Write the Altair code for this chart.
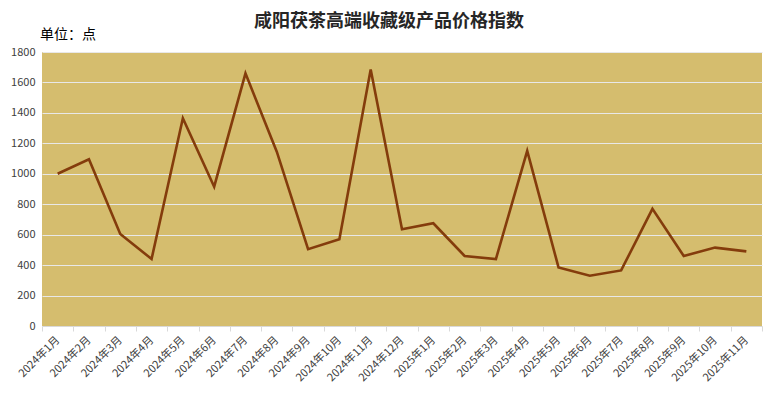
import altair as alt
import pandas as pd

months = ["2024年1月", "2024年2月", "2024年3月", "2024年4月", "2024年5月", "2024年6月",
          "2024年7月", "2024年8月", "2024年9月", "2024年10月", "2024年11月", "2024年12月",
          "2025年1月", "2025年2月", "2025年3月", "2025年4月", "2025年5月", "2025年6月",
          "2025年7月", "2025年8月", "2025年9月", "2025年10月", "2025年11月"]
values = [1000, 1095, 605, 440, 1365, 915, 1660, 1145, 505, 570, 1685, 635,
          675, 460, 440, 1150, 385, 330, 365, 770, 460, 515, 490]
y_ticks = [0, 200, 400, 600, 800, 1000, 1200, 1400, 1600, 1800]
title_text = "咸阳茯茶高端收藏级产品价格指数"
unit_text = "单位：点"

df = pd.DataFrame({"month": months, "value": values})

FONT = "Noto Sans CJK SC"

line = alt.Chart(df).mark_line(color="#843C0C", strokeWidth=2.6).encode(
    x=alt.X("month:N", sort=months, title=None,
            scale=alt.Scale(type="band", paddingInner=0, paddingOuter=0),
            axis=alt.Axis(labelAngle=-45, labelAlign="right", labelBaseline="middle",
                          labelFont=FONT, labelFontSize=11, labelColor="#404040",
                          labelPadding=7, tickBand="extent", ticks=True, tickSize=5,
                          tickColor="#d9d9d9", domainColor="#d9d9d9", grid=False)),
    y=alt.Y("value:Q", title=None,
            scale=alt.Scale(domain=[0, 1800], nice=False),
            axis=alt.Axis(values=y_ticks, format="d", labelFont=FONT, labelFontSize=11,
                          labelColor="#404040", ticks=False, domain=False,
                          labelPadding=7, gridColor="#e8e8e8", gridWidth=1.2)),
)

unit = alt.Chart(pd.DataFrame({"t": [unit_text]})).mark_text(
    align="left", baseline="middle", font=FONT, fontSize=14, color="#000000"
).encode(x=alt.value(-2), y=alt.value(-17), text="t:N")

title = alt.Chart(pd.DataFrame({"t": [title_text]})).mark_text(
    align="center", baseline="middle", font=FONT, fontSize=18, fontWeight="bold",
    color="#262626"
).encode(x=alt.value(347), y=alt.value(-30), text="t:N")

chart = alt.layer(line, unit, title).properties(
    width=720, height=274,
    padding={"left": 34, "top": 44, "right": 8, "bottom": 60},
    autosize=alt.AutoSizeParams(type="none"),
    background="white",
).configure_view(fill="#D5BD6E", strokeWidth=0)

chart.save("out.html", embed_options={"renderer": "svg", "actions": False})
